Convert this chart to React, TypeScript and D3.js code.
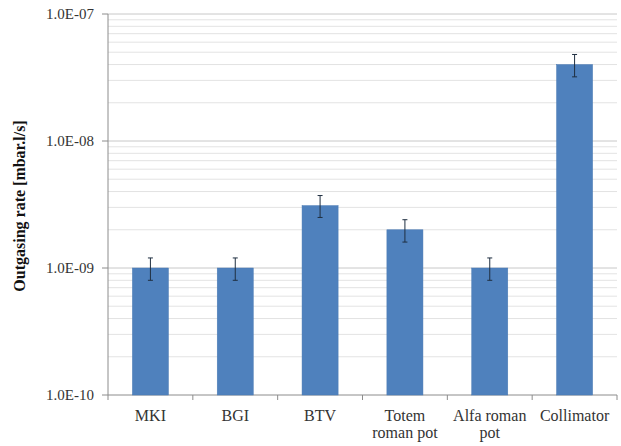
import React from "react";
import * as d3 from "d3";

const categories = ["MKI", "BGI", "BTV", "Totem\nroman pot", "Alfa roman\npot", "Collimator"];
const values = [1.0e-9, 1.0e-9, 3.1e-9, 2.0e-9, 1.0e-9, 4.0e-8];
const errLow = [0.8e-9, 0.8e-9, 2.5e-9, 1.6e-9, 0.8e-9, 3.2e-8];
const errHigh = [1.2e-9, 1.2e-9, 3.72e-9, 2.4e-9, 1.2e-9, 4.8e-8];
const yTicks = [1e-10, 1e-9, 1e-8, 1e-7];
const yTickLabels = ["1.0E-10", "1.0E-09", "1.0E-08", "1.0E-07"];

const W = 621, H = 446;
const left = 108, right = 617, top = 14, bottom = 395;
const font = "Times New Roman, Liberation Serif, Tinos, serif";

export default function App() {
  const y = d3.scaleLog().domain([1e-10, 1e-7]).range([bottom, top]);
  const x = d3.scaleBand<number>().domain(d3.range(categories.length)).range([left, right]).paddingInner(0.575).paddingOuter(0.2875);
  const step = (right - left) / categories.length;
  const minor: number[] = [];
  for (let e = -10; e < -7; e++) for (let m = 2; m <= 9; m++) minor.push(m * Math.pow(10, e));
  return (
    <svg width={W} height={H} style={{ position: "absolute", left: 0, top: 0, background: "#fff" }}>
      {minor.map((v, i) => (
        <line key={"m" + i} x1={left} x2={right} y1={y(v)} y2={y(v)} stroke="#e3e3e3" strokeWidth={1} />
      ))}
      {yTicks.map((v, i) => (
        <g key={"t" + i}>
          {i > 0 && <line x1={left} x2={right} y1={y(v)} y2={y(v)} stroke="#c8c8c8" strokeWidth={1} />}
          <line x1={left - 6} x2={left} y1={y(v)} y2={y(v)} stroke="#8c8c8c" />
          <text x={94} y={y(v)} dy="0.33em" textAnchor="end" style={{ fontFamily: font }} fontSize={15} fill="#333">{yTickLabels[i]}</text>
        </g>
      ))}
      <line x1={left} x2={left} y1={top} y2={bottom} stroke="#8c8c8c" />
      <line x1={left} x2={right} y1={bottom} y2={bottom} stroke="#8c8c8c" />
      {d3.range(categories.length + 1).map((i) => (
        <line key={"xt" + i} x1={left + i * step} x2={left + i * step} y1={bottom} y2={bottom + 5} stroke="#8c8c8c" />
      ))}
      {values.map((v, i) => (
        <rect key={"b" + i} x={x(i)} y={y(v)} width={x.bandwidth()} height={bottom - y(v)} fill="#4f81bd" stroke="#4a7ab3" strokeWidth={0.5} />
      ))}
      {values.map((v, i) => {
        const cx = (x(i) as number) + x.bandwidth() / 2;
        return (
          <g key={"e" + i} stroke="#1f2f40" strokeWidth={1}>
            <line x1={cx} x2={cx} y1={y(errHigh[i])} y2={y(errLow[i])} />
            <line x1={cx - 2.5} x2={cx + 2.5} y1={y(errHigh[i])} y2={y(errHigh[i])} />
            <line x1={cx - 2.5} x2={cx + 2.5} y1={y(errLow[i])} y2={y(errLow[i])} />
          </g>
        );
      })}
      {categories.map((c, i) => {
        const cx = (x(i) as number) + x.bandwidth() / 2;
        return (
          <text key={"c" + i} x={cx} y={421} textAnchor="middle" style={{ fontFamily: font }} fontSize={16} fill="#333">
            {c.split("\n").map((l, j) => (
              <tspan key={j} x={cx} dy={j === 0 ? 0 : 17}>{l}</tspan>
            ))}
          </text>
        );
      })}
      <text transform={`translate(25,${206}) rotate(-90)`} textAnchor="middle" style={{ fontFamily: font }} fontSize={16} fontWeight="bold" fill="#111">Outgasing rate [mbar.l/s]</text>
    </svg>
  );
}
